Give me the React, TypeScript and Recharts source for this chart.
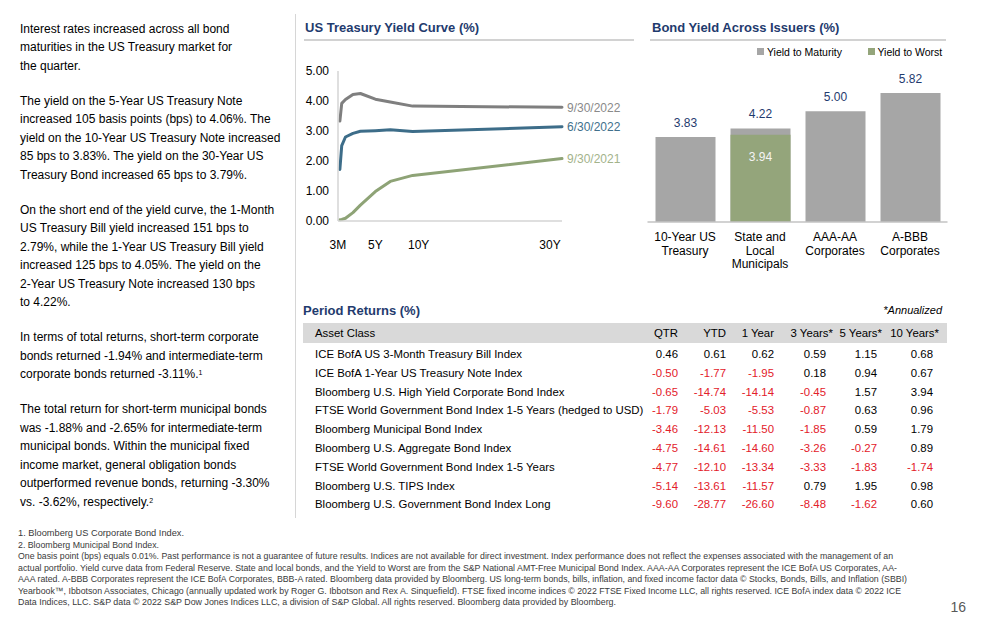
import React from "react";
import { LineChart, Line, XAxis, YAxis, BarChart, Bar, LabelList } from "recharts";

// ---------- Yield curve data ----------
const maturities = [0.25, 0.5, 1, 2, 3, 5, 7, 10, 30];
const yieldsSep2022 = [3.33, 3.92, 4.05, 4.22, 4.25, 4.06, 3.97, 3.83, 3.79];
const yieldsJun2022 = [1.72, 2.51, 2.8, 2.92, 2.99, 3.01, 3.04, 2.98, 3.14];
const yieldsSep2021 = [0.04, 0.05, 0.09, 0.28, 0.53, 0.98, 1.32, 1.52, 2.08];
const curveTickValues = [0.25, 5, 10, 30];
const curveTickLabels = ["3M", "5Y", "10Y", "30Y"];
const curveYTicks = [0, 1, 2, 3, 4, 5];
const curveSeriesNames = ["9/30/2022", "6/30/2022", "9/30/2021"];

// ---------- Bond yield data ----------
const issuers = ["10-Year US\nTreasury", "State and\nLocal\nMunicipals", "AAA-AA\nCorporates", "A-BBB\nCorporates"];
const yieldToMaturity = [3.83, 4.22, 5.0, 5.82];
const yieldToWorst: (number | null)[] = [null, 3.94, null, null];
const bondLegend = ["Yield to Maturity", "Yield to Worst"];

// ---------- Period returns data ----------
const assetClasses = [
  "ICE BofA US 3-Month Treasury Bill Index",
  "ICE BofA 1-Year US Treasury Note Index",
  "Bloomberg U.S. High Yield Corporate Bond Index",
  "FTSE World Government Bond Index 1-5 Years (hedged to USD)",
  "Bloomberg Municipal Bond Index",
  "Bloomberg U.S. Aggregate Bond Index",
  "FTSE World Government Bond Index 1-5 Years",
  "Bloomberg U.S. TIPS Index",
  "Bloomberg U.S. Government Bond Index Long",
];
const periodHeaders = ["QTR", "YTD", "1 Year", "3 Years*", "5 Years*", "10 Years*"];
const qtrReturns = [0.46, -0.5, -0.65, -1.79, -3.46, -4.75, -4.77, -5.14, -9.6];
const ytdReturns = [0.61, -1.77, -14.74, -5.03, -12.13, -14.61, -12.1, -13.61, -28.77];
const oneYearReturns = [0.62, -1.95, -14.14, -5.53, -11.5, -14.6, -13.34, -11.57, -26.6];
const threeYearReturns = [0.59, 0.18, -0.45, -0.87, -1.85, -3.26, -3.33, 0.79, -8.48];
const fiveYearReturns = [1.15, 0.94, 1.57, 0.63, 0.59, -0.27, -1.83, 1.95, -1.62];
const tenYearReturns = [0.68, 0.67, 3.94, 0.96, 1.79, 0.89, -1.74, 0.98, 0.6];

// ---------- Text ----------
const commentary: string[][] = [
  ["Interest rates increased across all bond", "maturities in the US Treasury market for", "the quarter."],
  [
    "The yield on the 5-Year US Treasury Note",
    "increased 105 basis points (bps) to 4.06%. The",
    "yield on the 10-Year US Treasury Note increased",
    "85 bps to 3.83%. The yield on the 30-Year US",
    "Treasury Bond increased 65 bps to 3.79%.",
  ],
  [
    "On the short end of the yield curve, the 1-Month",
    "US Treasury Bill yield increased 151 bps to",
    "2.79%, while the 1-Year US Treasury Bill yield",
    "increased 125 bps to 4.05%. The yield on the",
    "2-Year US Treasury Note increased 130 bps",
    "to 4.22%.",
  ],
  [
    "In terms of total returns, short-term corporate",
    "bonds returned -1.94% and intermediate-term",
    "corporate bonds returned -3.11%.^1",
  ],
  [
    "The total return for short-term municipal bonds",
    "was -1.88% and -2.65% for intermediate-term",
    "municipal bonds. Within the municipal fixed",
    "income market, general obligation bonds",
    "outperformed revenue bonds, returning -3.30%",
    "vs. -3.62%, respectively.^2",
  ],
];

const footnotes = [
  "1. Bloomberg US Corporate Bond Index.",
  "2. Bloomberg Municipal Bond Index.",
  "One basis point (bps) equals 0.01%. Past performance is not a guarantee of future results. Indices are not available for direct investment. Index performance does not reflect the expenses associated with the management of an",
  "actual portfolio. Yield curve data from Federal Reserve. State and local bonds, and the Yield to Worst are from the S&P National AMT-Free Municipal Bond Index. AAA-AA Corporates represent the ICE BofA US Corporates, AA-",
  "AAA rated. A-BBB Corporates represent the ICE BofA Corporates, BBB-A rated. Bloomberg data provided by Bloomberg. US long-term bonds, bills, inflation, and fixed income factor data © Stocks, Bonds, Bills, and Inflation (SBBI)",
  "Yearbook™, Ibbotson Associates, Chicago (annually updated work by Roger G. Ibbotson and Rex A. Sinquefield). FTSE fixed income indices © 2022 FTSE Fixed Income LLC, all rights reserved. ICE BofA index data © 2022 ICE",
  "Data Indices, LLC. S&P data © 2022 S&P Dow Jones Indices LLC, a division of S&P Global. All rights reserved.  Bloomberg data provided by Bloomberg.",
];
const footnoteLengths = [166, 141, 875, 879, 889, 883, 598];

// ---------- Styles ----------
const FONT = "'Liberation Sans', Arial, Helvetica, sans-serif";
const NAVY = "#1F3B6E";
const RED = "#E3202A";
const curveColors = ["#7f7f7f", "#3d6d89", "#8ea376"];
const curveLabelColors = ["#8a8a8a", "#41708c", "#a3b38b"];
const GRAY_BAR = "#a6a6a6";
const GREEN_BAR = "#94a57b";

const curveData = maturities.map((m, i) => ({
  m,
  s0: yieldsSep2022[i],
  s1: yieldsJun2022[i],
  s2: yieldsSep2021[i],
}));

const bondData = issuers.map((name, i) => ({
  name,
  ytm: yieldToMaturity[i],
  ytw: yieldToWorst[i],
}));

const returnColumns = [qtrReturns, ytdReturns, oneYearReturns, threeYearReturns, fiveYearReturns, tenYearReturns];
const valueRight = [678, 726, 774, 826, 877, 933];
const headerRight = [678, 726, 774, 833, 882, 939];

const CurveXTick = (props: any) => {
  const { x, y, payload } = props;
  const idx = curveTickValues.indexOf(payload.value);
  const label = curveTickLabels[idx] ?? "";
  const shift = idx === 2 ? 6 : idx === 3 ? -12 : idx === 0 ? -2 : 0;
  return (
    <text x={x + shift} y={y + 28} textAnchor="middle" fontSize={12} fill="#000" fontFamily={FONT}>
      {label}
    </text>
  );
};

const BondXTick = (props: any) => {
  const { x, y, payload } = props;
  const lines = String(payload.value).split("\n");
  return (
    <text x={x} y={y + 19} textAnchor="middle" fontSize={12} fill="#000" fontFamily={FONT}>
      {lines.map((ln, i) => (
        <tspan key={i} x={x} dy={i === 0 ? 0 : 13.7}>
          {ln}
        </tspan>
      ))}
    </text>
  );
};

const makeEndLabel = (name: string, color: string) => (props: any) => {
  const { x, y, index } = props;
  if (index !== maturities.length - 1) return null;
  return (
    <text x={x + 5} y={y} dy={4.5} fontSize={12} fill={color} fontFamily={FONT}>
      {name}
    </text>
  );
};

const fmt = (v: number) => v.toFixed(2);

const Sup = ({ children }: { children: React.ReactNode }) => (
  <span style={{ fontSize: 7, verticalAlign: "top", position: "relative", top: -1 }}>{children}</span>
);

function renderLine(line: string) {
  const m = line.match(/^(.*)\^(\d)$/);
  if (m) {
    return (
      <>
        {m[1]}
        <Sup>{m[2]}</Sup>
      </>
    );
  }
  return line;
}

export default function App() {
  const paraTops: number[] = [];
  let t = 19.75;
  commentary.forEach((p) => {
    paraTops.push(t);
    t += p.length * 18.5 + 16.5;
  });

  return (
    <div
      style={{
        position: "absolute",
        left: 0,
        top: 0,
        width: 991,
        height: 629,
        background: "#fff",
        fontFamily: FONT,
        overflow: "hidden",
        color: "#000",
      }}
    >
      {/* Left commentary */}
      {commentary.map((p, pi) => (
        <div
          key={pi}
          style={{
            position: "absolute",
            left: 20,
            top: paraTops[pi],
            fontSize: 12,
            lineHeight: "18.5px",
            whiteSpace: "nowrap",
          }}
        >
          {p.map((ln, li) => (
            <div key={li}>{renderLine(ln)}</div>
          ))}
        </div>
      ))}

      {/* vertical divider */}
      <div style={{ position: "absolute", left: 295, top: 14, width: 1, height: 504, background: "#d6d6d6" }} />

      {/* Yield curve title */}
      <div style={{ position: "absolute", left: 305, top: 20, fontSize: 13, lineHeight: "16px", fontWeight: 700, color: NAVY, whiteSpace: "nowrap" }}>
        US Treasury Yield Curve (%)
      </div>
      <div style={{ position: "absolute", left: 304, top: 39, width: 330, height: 1.5, background: "#d2d2d2" }} />

      <div style={{ position: "absolute", left: 300, top: 55 }}>
        <LineChart width={340} height={210} data={curveData} margin={{ top: 16, right: 78, left: 0, bottom: 14 }}>
          <XAxis
            dataKey="m"
            type="number"
            domain={[0, 30]}
            ticks={curveTickValues}
            tick={<CurveXTick />}
            tickLine={false}
            tickSize={0}
            tickMargin={0}
            height={30}
            axisLine={{ stroke: "#d5d5d5", strokeWidth: 1.5 }}
            interval={0}
          />
          <YAxis
            type="number"
            domain={[0, 5]}
            ticks={curveYTicks}
            tickFormatter={fmt}
            width={38}
            tickLine={false}
            tickSize={0}
            tickMargin={9}
            axisLine={{ stroke: "#d5d5d5", strokeWidth: 1.5 }}
            tick={{ fontSize: 12, fill: "#000", fontFamily: FONT }}
            interval={0}
          />
          {["s0", "s1", "s2"].map((k, i) => (
            <Line
              key={k}
              dataKey={k}
              type="linear"
              stroke={curveColors[i]}
              strokeWidth={3}
              strokeLinejoin="round"
              strokeLinecap="round"
              dot={false}
              activeDot={false}
              isAnimationActive={false}
            >
              <LabelList dataKey={k} content={makeEndLabel(curveSeriesNames[i], curveLabelColors[i])} />
            </Line>
          ))}
        </LineChart>
      </div>

      {/* Bond yield title */}
      <div style={{ position: "absolute", left: 652, top: 20, fontSize: 13, lineHeight: "16px", fontWeight: 700, color: NAVY, whiteSpace: "nowrap" }}>
        Bond Yield Across Issuers (%)
      </div>
      <div style={{ position: "absolute", left: 650, top: 39, width: 296, height: 1.5, background: "#d2d2d2" }} />

      {/* Legend */}
      {bondLegend.map((name, i) => (
        <div
          key={name}
          style={{
            position: "absolute",
            left: i === 0 ? 757 : 867.5,
            top: 44,
            height: 15,
            display: "flex",
            alignItems: "center",
            fontSize: 10.5,
            whiteSpace: "nowrap",
            color: "#000",
          }}
        >
          <span style={{ display: "inline-block", width: 7, height: 7, background: i === 0 ? GRAY_BAR : GREEN_BAR, marginRight: 3 }} />
          {name}
        </div>
      ))}

      <div style={{ position: "absolute", left: 640, top: 60 }}>
        <BarChart width={320} height={230} data={bondData} margin={{ top: 29, right: 12.5, left: 7.5, bottom: 18 }}>
          <XAxis
            dataKey="name"
            xAxisId="m"
            tick={<BondXTick />}
            tickLine={false}
            tickSize={0}
            tickMargin={0}
            height={50}
            interval={0}
            axisLine={{ stroke: "#c3c3c3", strokeWidth: 1.5 }}
          />
          <XAxis dataKey="name" xAxisId="w" hide />
          <YAxis hide domain={[0, 6]} />
          <Bar dataKey="ytm" xAxisId="m" fill={GRAY_BAR} barSize={60} isAnimationActive={false}>
            <LabelList
              dataKey="ytm"
              position="top"
              offset={10}
              formatter={(v: any) => Number(v).toFixed(2)}
              style={{ fontSize: 12, fill: NAVY, fontFamily: FONT }}
            />
          </Bar>
          <Bar dataKey="ytw" xAxisId="w" fill={GREEN_BAR} barSize={60} isAnimationActive={false}>
            <LabelList
              dataKey="ytw"
              position="insideTop"
              offset={18}
              formatter={(v: any) => (v == null ? "" : Number(v).toFixed(2))}
              style={{ fontSize: 12, fill: "#f4f4f4", fontFamily: FONT }}
            />
          </Bar>
        </BarChart>
      </div>

      {/* Period returns */}
      <div style={{ position: "absolute", left: 303, top: 303, fontSize: 13, lineHeight: "16px", fontWeight: 700, color: NAVY, whiteSpace: "nowrap" }}>
        Period Returns (%)
      </div>
      <div style={{ position: "absolute", left: 842, width: 100, top: 302, fontSize: 11, lineHeight: "16px", fontStyle: "italic", textAlign: "right", whiteSpace: "nowrap" }}>
        *Annualized
      </div>
      <div style={{ position: "absolute", left: 303, top: 323, width: 644, height: 20, background: "#d9d9d9" }} />
      <div style={{ position: "absolute", left: 315, top: 324, fontSize: 11.4, lineHeight: "18px", whiteSpace: "nowrap" }}>Asset Class</div>
      {periodHeaders.map((h, ci) => (
        <div
          key={h}
          style={{
            position: "absolute",
            left: headerRight[ci] - 70,
            width: 70,
            top: 324,
            fontSize: 11.4,
            lineHeight: "18px",
            textAlign: "right",
            whiteSpace: "nowrap",
          }}
        >
          {h}
        </div>
      ))}
      {assetClasses.map((name, ri) => (
        <React.Fragment key={name}>
          <div
            style={{
              position: "absolute",
              left: 315,
              top: 354 + ri * 18.8 - 9,
              fontSize: 11.4,
              lineHeight: "18px",
              whiteSpace: "nowrap",
            }}
          >
            {name}
          </div>
          {returnColumns.map((col, ci) => (
            <div
              key={ci}
              style={{
                position: "absolute",
                left: valueRight[ci] - 60,
                width: 60,
                top: 354 + ri * 18.8 - 9,
                fontSize: 11.4,
                lineHeight: "18px",
                textAlign: "right",
                whiteSpace: "nowrap",
                color: col[ri] < 0 ? RED : "#000",
              }}
            >
              {col[ri].toFixed(2)}
            </div>
          ))}
        </React.Fragment>
      ))}

      {/* Footnotes */}
      <svg style={{ position: "absolute", left: 0, top: 522 }} width={991} height={100}>
        {footnotes.map((ln, i) => (
          <text
            key={i}
            x={18}
            y={11 + i * 11.5 + 3.2}
            fontSize={9}
            fill="#3a3a3a"
            fontFamily={FONT}
            textLength={footnoteLengths[i]}
            lengthAdjust="spacingAndGlyphs"
          >
            {ln}
          </text>
        ))}
      </svg>
      <div style={{ position: "absolute", left: 930, width: 36, top: 598, fontSize: 14, lineHeight: "18px", textAlign: "right", color: "#595959" }}>
        16
      </div>
    </div>
  );
}
